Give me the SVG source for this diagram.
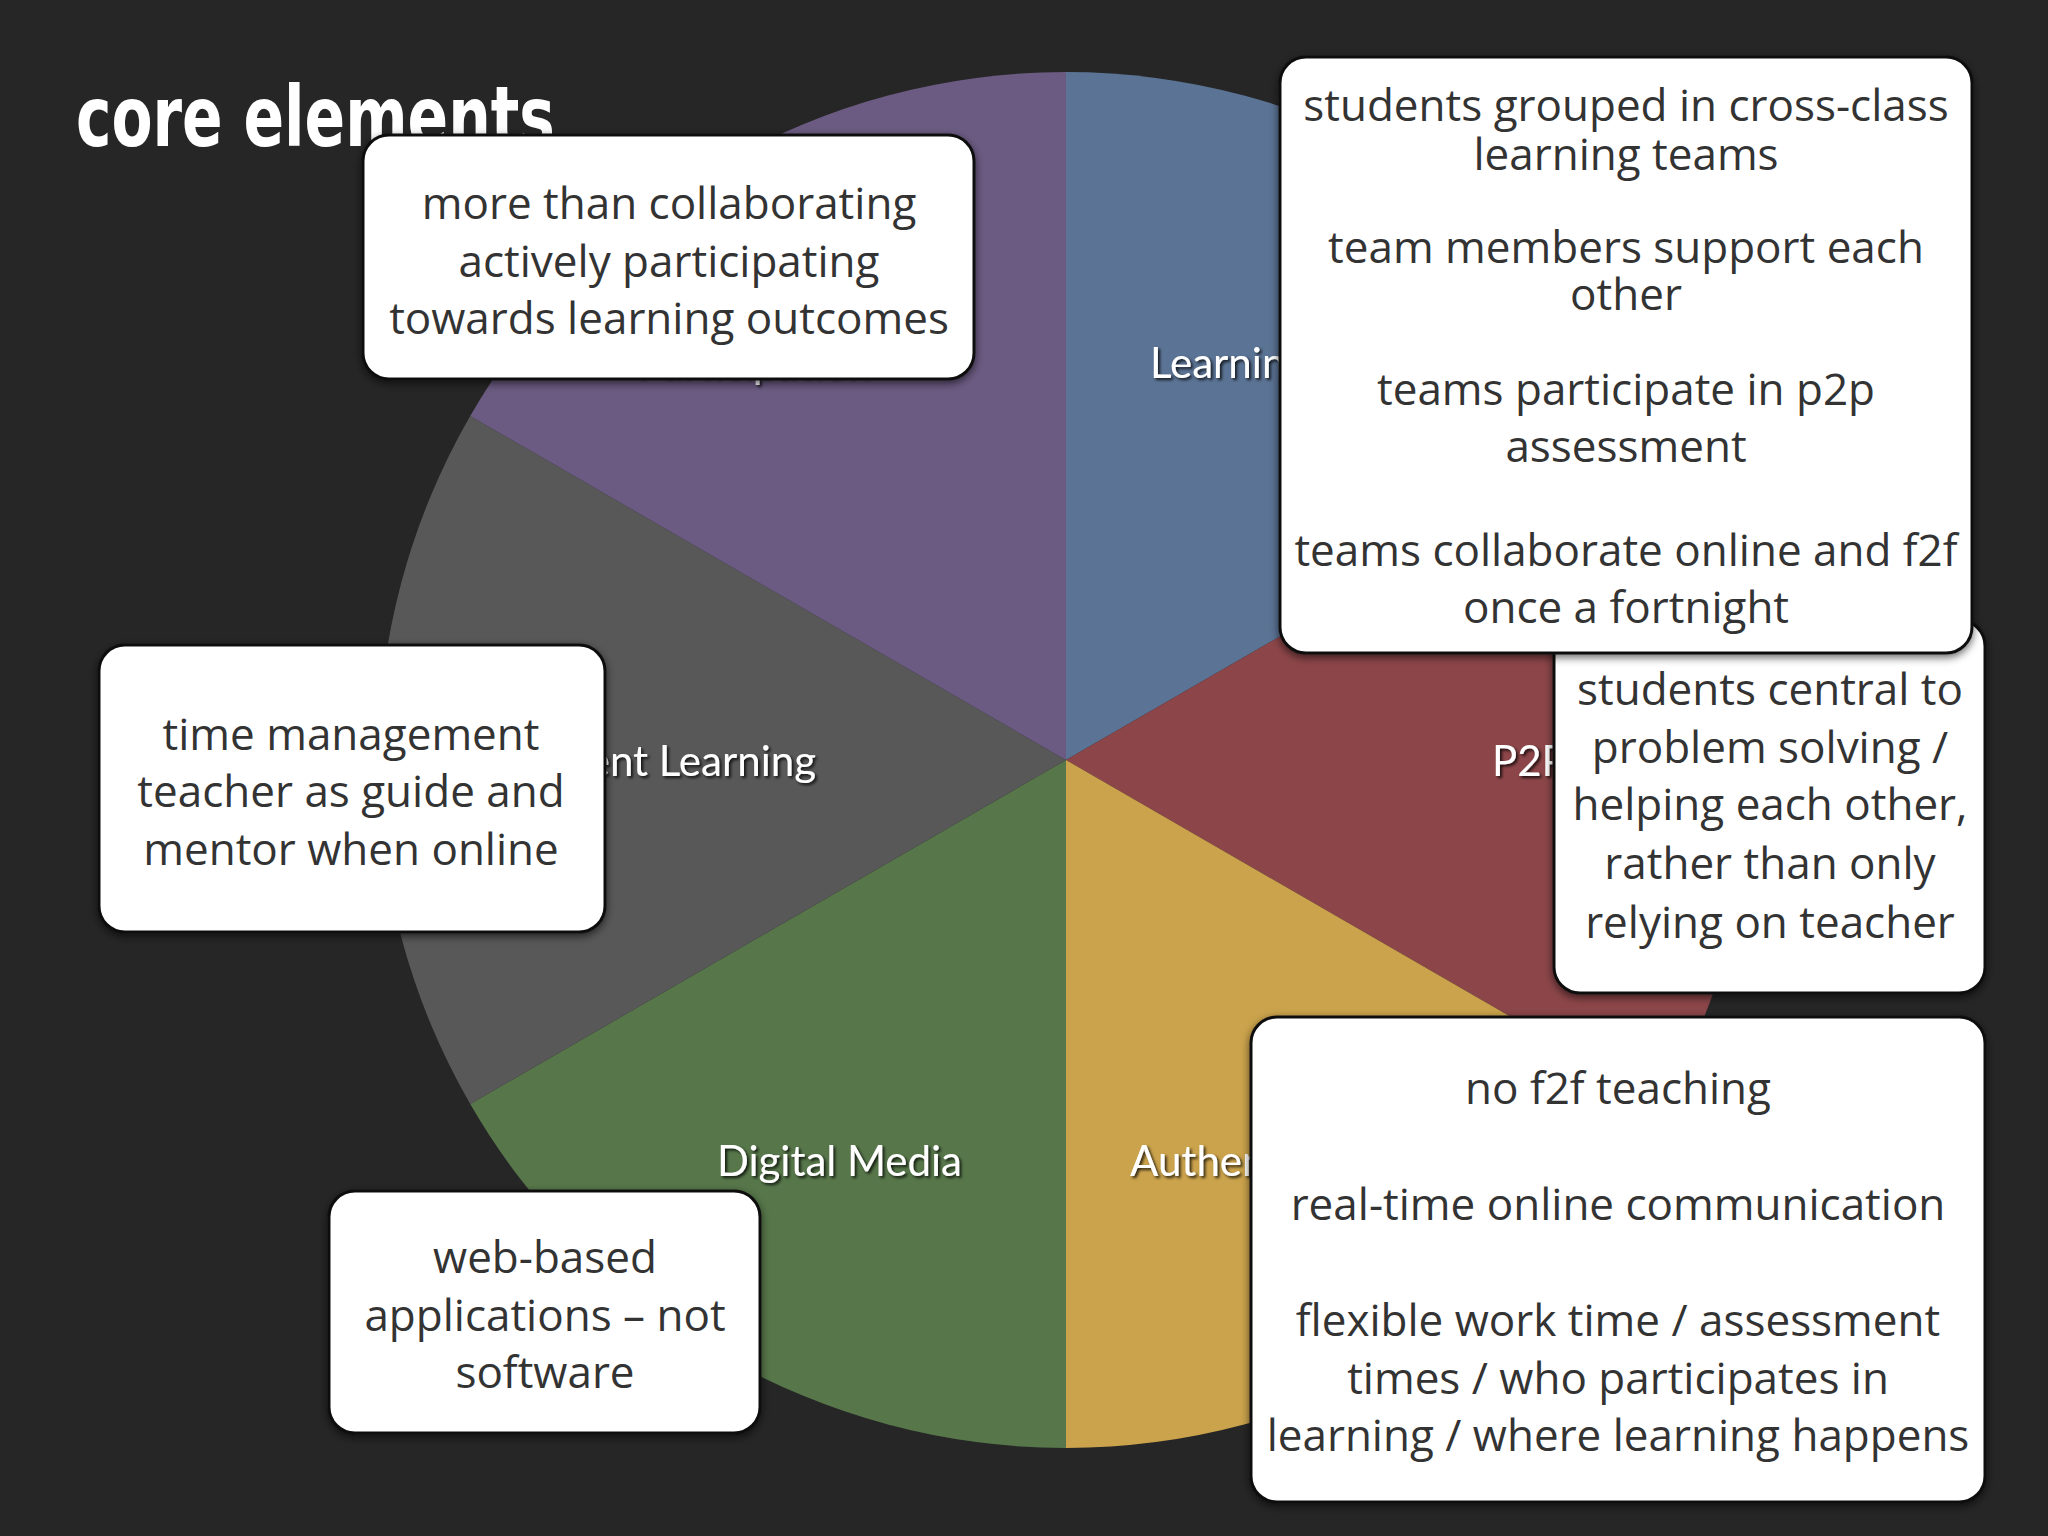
<svg xmlns="http://www.w3.org/2000/svg" width="2048" height="1536" viewBox="0 0 2048 1536">
<defs>
<filter id="sh" x="-10%" y="-10%" width="120%" height="120%"><feDropShadow dx="0" dy="3" stdDeviation="4" flood-color="#000" flood-opacity="0.6"/></filter>
<filter id="ts"><feDropShadow dx="2" dy="2" stdDeviation="1.5" flood-color="#000" flood-opacity="0.8"/></filter>
</defs>
<style>
.box{fill:#fff;stroke:#111;stroke-width:3;filter:url(#sh)}
.bt{font-family:"Open Sans","Liberation Sans",sans-serif;font-size:44px;fill:#333;text-anchor:middle;dominant-baseline:central}
.sl{font-family:Lato,"Liberation Sans",sans-serif;font-size:42px;fill:#fff;filter:url(#ts);dominant-baseline:central}
</style>
<rect width="2048" height="1536" fill="#262626"/>
<g id="pie">
<path d="M1066,760 L1066,72 A688,688 0 0 1 1661.8,416 Z" fill="#5b7394"/>
<path d="M1066,760 L1661.8,416 A688,688 0 0 1 1661.8,1104 Z" fill="#8c4649"/>
<path d="M1066,760 L1661.8,1104 A688,688 0 0 1 1066,1448 Z" fill="#cba34c"/>
<path d="M1066,760 L1066,1448 A688,688 0 0 1 470.2,1104 Z" fill="#57774a"/>
<path d="M1066,760 L470.2,1104 A688,688 0 0 1 470.2,416 Z" fill="#585858"/>
<path d="M1066,760 L470.2,416 A688,688 0 0 1 1066,72 Z" fill="#6b5b82"/>
<text class="sl" x="1150" y="362">Learning Teams</text>
<text class="sl" x="1492" y="760">P2P</text>
<text class="sl" x="1130" y="1160">Authentic Learning</text>
<text class="sl" x="962" y="1160" text-anchor="end">Digital Media</text>
<text class="sl" x="816" y="760" text-anchor="end">Independent Learning</text>
<text class="sl" x="870" y="362" text-anchor="end">Participation</text>
</g>
<text x="76" y="146" font-family="DejaVu Sans Condensed,sans-serif" font-weight="bold" font-size="84" fill="#fff" textLength="479" lengthAdjust="spacingAndGlyphs">core elements</text>
<g id="box1"><rect class="box" x="363" y="135" width="611" height="244" rx="26"/>
<text class="bt" x="669" y="202">more than collaborating</text><text class="bt" x="669" y="260">actively participating</text><text class="bt" x="669" y="317">towards learning outcomes</text></g>
<g id="box3"><rect class="box" x="1554" y="620" width="431" height="373" rx="26"/>
<text class="bt" x="1770" y="688">students central to</text><text class="bt" x="1770" y="746">problem solving /</text><text class="bt" x="1770" y="803">helping each other,</text><text class="bt" x="1770" y="862">rather than only</text><text class="bt" x="1770" y="921">relying on teacher</text></g>
<g id="box2"><rect class="box" x="1280" y="57" width="692" height="596" rx="26"/>
<text class="bt" x="1626" y="104">students grouped in cross-class</text><text class="bt" x="1626" y="153">learning teams</text>
<text class="bt" x="1626" y="246">team members support each</text><text class="bt" x="1626" y="293">other</text>
<text class="bt" x="1626" y="388">teams participate in p2p</text><text class="bt" x="1626" y="445">assessment</text>
<text class="bt" x="1626" y="549">teams collaborate online and f2f</text><text class="bt" x="1626" y="606">once a fortnight</text></g>
<g id="box4"><rect class="box" x="99" y="645" width="506" height="287" rx="26"/>
<text class="bt" x="351" y="733">time management</text><text class="bt" x="351" y="790">teacher as guide and</text><text class="bt" x="351" y="848">mentor when online</text></g>
<g id="box5"><rect class="box" x="329" y="1191" width="431" height="242" rx="26"/>
<text class="bt" x="545" y="1256">web-based</text><text class="bt" x="545" y="1314">applications – not</text><text class="bt" x="545" y="1371">software</text></g>
<g id="box6"><rect class="box" x="1251" y="1017" width="734" height="485" rx="26"/>
<text class="bt" x="1618" y="1087">no f2f teaching</text><text class="bt" x="1618" y="1203">real-time online communication</text>
<text class="bt" x="1618" y="1319">flexible work time / assessment</text><text class="bt" x="1618" y="1377">times / who participates in</text><text class="bt" x="1618" y="1434">learning / where learning happens</text></g>
</svg>
